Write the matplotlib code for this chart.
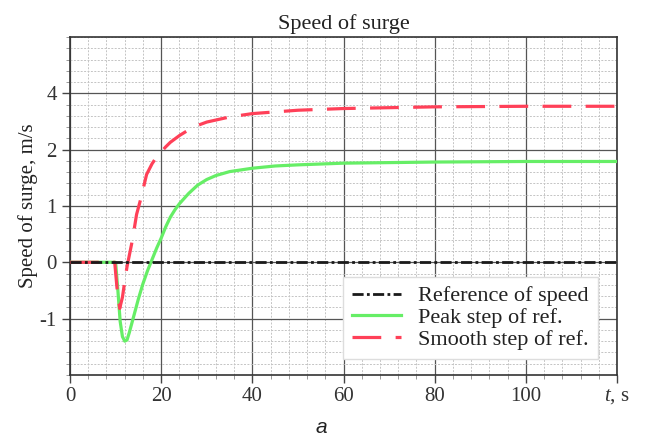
import matplotlib
matplotlib.use("Agg")
import matplotlib.pyplot as plt
from matplotlib.ticker import MultipleLocator

plt.rcParams['font.family'] = ['Liberation Serif', 'DejaVu Serif']
plt.rcParams['mathtext.fontset'] = 'custom'
plt.rcParams['mathtext.it'] = 'Liberation Serif:italic'
plt.rcParams['mathtext.rm'] = 'Liberation Serif'

# Data
t_ref = [0, 120]
v_ref = [0, 0]

t_peak = [0, 10, 10.5, 11, 11.5, 12, 12.5, 13, 14, 15, 16, 17, 18, 19, 20, 21,
          22, 23, 24, 25, 26, 28, 30, 32, 35, 40, 45, 50, 60, 70, 80, 100, 120]
v_peak = [0, 0, -0.5, -1.05, -1.32, -1.40, -1.38, -1.25, -0.95, -0.65, -0.38,
          -0.15, 0.05, 0.25, 0.43, 0.63, 0.80, 0.93, 1.04, 1.13, 1.22, 1.37,
          1.47, 1.54, 1.61, 1.67, 1.71, 1.73, 1.76, 1.77, 1.78, 1.79, 1.79]

t_smooth = [0, 9.8, 10.3, 10.9, 11.5, 12, 12.5, 13, 13.5, 14, 14.6, 15.5, 16.8,
            18, 19, 20, 21, 22, 24, 26, 28, 30, 35, 40, 50, 60, 80, 100, 120]
v_smooth = [0, 0, -0.45, -0.82, -0.62, -0.34, -0.08, 0.12, 0.32, 0.55, 0.85,
            1.12, 1.56, 1.75, 1.87, 1.96, 2.05, 2.13, 2.25, 2.35, 2.43, 2.49,
            2.58, 2.64, 2.70, 2.73, 2.76, 2.77, 2.77]

x_ticks = [0, 20, 40, 60, 80, 100, 120]
x_labels = ['0', '20', '40', '60', '80', '100', '$t$, s']
y_ticks = [-1, 0, 1, 2, 3]
y_labels = ['-1', '0', '1', '2', '4']

fig = plt.figure(figsize=(6.46, 4.38), dpi=100)
ax = fig.add_axes([0.1084, 0.1440, 0.8467, 0.7715])

ax.set_xlim(0, 120)
ax.set_ylim(-2, 4)
ax.xaxis.set_minor_locator(MultipleLocator(4))
ax.yaxis.set_minor_locator(MultipleLocator(0.2))
ax.grid(which='major', color='#555555', linewidth=0.9, linestyle='-')
ax.grid(which='minor', color='#c4c4c4', linewidth=0.7, linestyle=(0, (2, 1.5)))
ax.set_axisbelow(True)

ax.plot(t_peak, v_peak, color='#66ee66', linewidth=2.3,
        label='Peak step of ref.', zorder=4)
ax.plot(t_smooth, v_smooth, color='#ff4058', linewidth=2.3,
        linestyle=(0, (9, 4.5)), label='Smooth step of ref.', zorder=5)
ax.plot(t_ref, v_ref, color='#1a1a1a', linewidth=2.0,
        linestyle=(0, (4, 1.2, 1, 1.2)), label='Reference of speed', zorder=6)

handles, labels = ax.get_legend_handles_labels()
order = [2, 0, 1]
handles = [handles[i] for i in order]
labels = [labels[i] for i in order]

ax.set_xticks(x_ticks)
ax.set_xticklabels(x_labels)
ax.set_yticks(y_ticks)
ax.set_yticklabels(y_labels)
ax.tick_params(which='major', direction='out', length=6, width=1, color='#444444',
               labelsize=15, labelcolor='#333333')
ax.tick_params(which='minor', direction='out', length=3, width=0.7, color='#999999')
ax.tick_params(axis='x', pad=3)
for sp in ax.spines.values():
    sp.set_color('#333333')
    sp.set_linewidth(1.2)

ax.set_title('Speed of surge', fontsize=16, color='#222222', pad=6)
ax.set_ylabel('Speed of surge, m/s', fontsize=15, color='#222222', labelpad=1)

leg = ax.legend(handles, labels, loc='lower right', bbox_to_anchor=(0.965, 0.048),
                borderaxespad=0, fontsize=16, frameon=True, fancybox=False,
                framealpha=1, edgecolor='#dddddd', handlelength=2.2,
                labelspacing=0.05, borderpad=0.4, handletextpad=0.8)
for txt in leg.get_texts():
    txt.set_color('#222222')

fig.text(0.498, 0.012, 'a', fontsize=15, style='italic',
         family=['Liberation Sans', 'DejaVu Sans'], color='#222222', ha='center')

fig.savefig('out.png', dpi=100)
